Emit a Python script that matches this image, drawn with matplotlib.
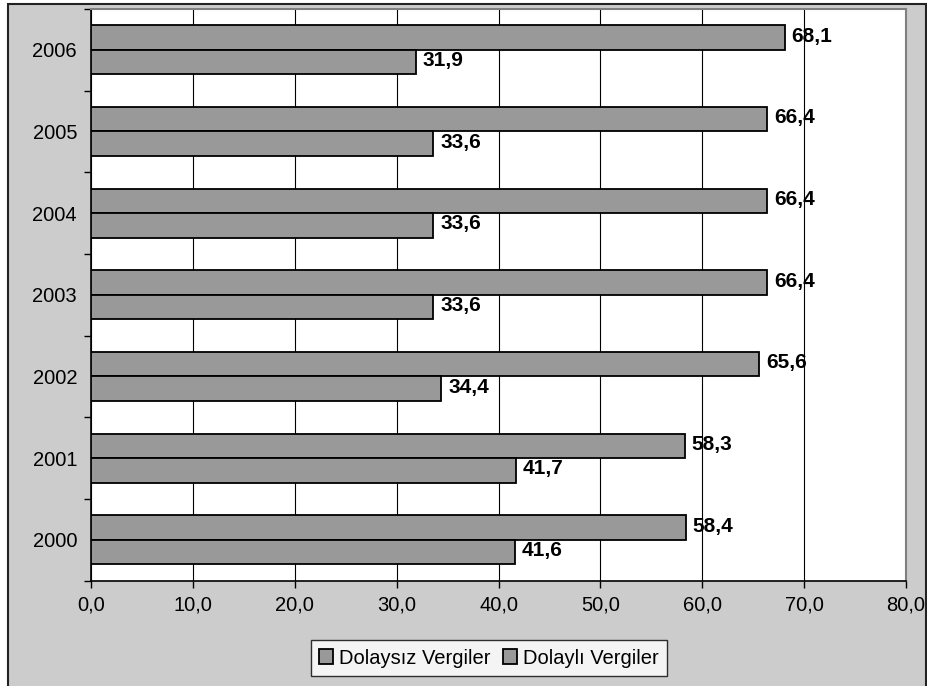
import matplotlib.pyplot as plt
from matplotlib.patches import Rectangle
import numpy as np

years = ['2000', '2001', '2002', '2003', '2004', '2005', '2006']
dolaysiz = [58.4, 58.3, 65.6, 66.4, 66.4, 66.4, 68.1]
dolayli = [41.6, 41.7, 34.4, 33.6, 33.6, 33.6, 31.9]
series_names = ['Dolaysız Vergiler', 'Dolaylı Vergiler']

plt.rcParams['font.family'] = ['Liberation Sans', 'DejaVu Sans']

fig = plt.figure(figsize=(9.28, 6.86), dpi=100, facecolor='white')
# grey chart area with dark frame
fig.add_artist(Rectangle((8/928, -0.05), 918/928, 1.05 - 4/686, transform=fig.transFigure,
                         facecolor='#cccccc', edgecolor='#222222', linewidth=1.5, zorder=-10))

ax = fig.add_axes([91/928, 1 - 580.5/686, 815/928, 571.5/686])
ax.set_facecolor('white')

y = np.arange(len(years))
h = 0.3
b1 = ax.barh(y + h/2, dolaysiz, height=h, color='#999999', edgecolor='black', linewidth=1.3,
             label=series_names[0], zorder=3)
b2 = ax.barh(y - h/2, dolayli, height=h, color='#999999', edgecolor='black', linewidth=1.3,
             label=series_names[1], zorder=3)

for bars, vals in [(b1, dolaysiz), (b2, dolayli)]:
    for bar, v in zip(bars, vals):
        ax.annotate(f'{v:.1f}'.replace('.', ','), (v, bar.get_y() + bar.get_height()/2),
                    xytext=(5, 1), textcoords='offset points', va='center', ha='left',
                    fontsize=15, fontweight='bold', zorder=5)

ax.set_xlim(0, 80)
ax.set_ylim(-0.5, len(years) - 0.5)
ax.set_xticks(np.arange(0, 81, 10))
ax.set_xticklabels([f'{t:.1f}'.replace('.', ',') for t in np.arange(0, 81, 10)], fontsize=14.5)
ax.set_yticks(y)
ax.set_yticklabels(years, fontsize=14.5)
ax.set_yticks(np.arange(-0.5, len(years), 1), minor=True)
ax.tick_params(axis='y', which='major', length=0, pad=10)
ax.tick_params(axis='y', which='minor', length=5, direction='out', width=1)
ax.tick_params(axis='x', length=5, direction='out', width=1, pad=6)

ax.grid(axis='x', color='black', linewidth=0.8, zorder=0)
for s in ['top', 'right']:
    ax.spines[s].set_color('#808080')
    ax.spines[s].set_linewidth(1.5)
for s in ['left', 'bottom']:
    ax.spines[s].set_color('black')
    ax.spines[s].set_linewidth(1.2)

leg = fig.legend(handles=[b1, b2], loc='center', bbox_to_anchor=(489/928, 1 - 658/686), ncol=2,
                 fontsize=14.5, frameon=True, fancybox=False, edgecolor='black',
                 handlelength=0.7, handleheight=0.7, handletextpad=0.3, columnspacing=0.6,
                 borderpad=0.4)
leg.get_frame().set_linewidth(1.0)

fig.savefig('out.png', dpi=100, facecolor='white')
